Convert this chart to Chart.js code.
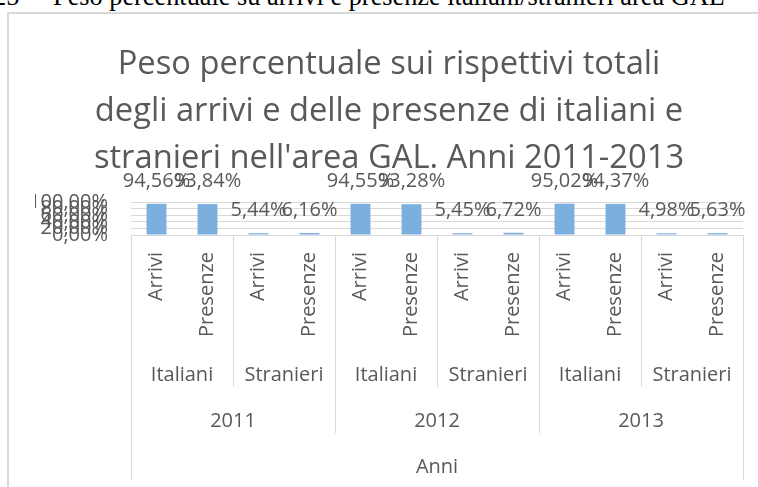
<!DOCTYPE html>
<html>
<head>
<meta charset="utf-8">
<script src="https://cdn.jsdelivr.net/npm/chart.js@4.4.1/dist/chart.umd.min.js"></script>
<style>
    html, body { margin: 0; padding: 0; background: #fff; overflow: hidden; width: 758px; height: 487px; }
    .caption { position: absolute; top: -16px; font-family: "Liberation Serif", serif; font-size: 26.3px; line-height: 26px; color: #000; white-space: nowrap; }
    .frame { position: absolute; left: 7px; top: 12px; width: 900px; height: 600px; border-left: 2px solid #d9d9d9; border-top: 2px solid #d9d9d9; }
    #chart { position: absolute; left: 0; top: 0; }
</style>
</head>
<body>
<span class="caption" style="left:-7px">25</span>
<span class="caption" style="left:30px">–</span>
<span class="caption" style="left:53px">Peso percentuale su arrivi e presenze italiani/stranieri area GAL</span>
<div class="frame"></div>
<canvas id="chart" width="758" height="487"></canvas>
<script>
// ── Data ──
const years    = ["2011", "2012", "2013"];
const groups   = ["Italiani", "Stranieri"];
const measures = ["Arrivi", "Presenze"];
const values   = [94.56, 93.84, 5.44, 6.16, 94.55, 93.28, 5.45, 6.72, 95.02, 94.37, 4.98, 5.63];
const yTicks   = [0, 20, 40, 60, 80, 100];

const titleLines = [
    "Peso percentuale sui rispettivi totali",
    "degli arrivi e delle presenze di italiani e",
    "stranieri nell'area GAL. Anni 2011-2013"
];

const labels = [];
years.forEach(y => groups.forEach(g => measures.forEach(m => labels.push(m))));

const TEXT = "#595959";
const LINE = "#d9d9d9";
const FONT = "'Open Sans', sans-serif";
const pct = v => v.toFixed(2).replace(".", ",") + "%";

// ── Value labels above bars ──
const valueLabels = {
    id: "valueLabels",
    afterDatasetsDraw(chart) {
        const { ctx } = chart;
        ctx.save();
        ctx.fillStyle = TEXT;
        ctx.font = "20px " + FONT;
        ctx.textAlign = "center";
        ctx.textBaseline = "alphabetic";
        chart.getDatasetMeta(0).data.forEach((bar, i) => {
            ctx.fillText(pct(values[i]), bar.x, bar.y - 17);
        });
        ctx.restore();
    }
};

// ── Multi-level category axis ──
const multiAxis = {
    id: "multiAxis",
    afterDraw(chart) {
        const { ctx, chartArea, scales: { x } } = chart;
        const n = labels.length;
        const step = x.getPixelForValue(1) - x.getPixelForValue(0);
        const edge = i => x.getPixelForValue(i) - step / 2;
        const perYear = groups.length * measures.length;

        ctx.save();
        ctx.strokeStyle = LINE;
        ctx.lineWidth = 1;
        for (let i = 0; i <= n; i++) {
            let end;
            if (i === 0 || i === n) end = 480;
            else if (i % perYear === 0) end = 433;
            else if (i % measures.length === 0) end = 387;
            else continue;
            const px = Math.round(edge(i)) + 0.5;
            ctx.beginPath();
            ctx.moveTo(px, chartArea.bottom);
            ctx.lineTo(px, end);
            ctx.stroke();
        }

        ctx.fillStyle = TEXT;
        ctx.font = "20px " + FONT;

        // rotated leaf labels
        labels.forEach((lab, i) => {
            ctx.save();
            ctx.translate(x.getPixelForValue(i), 252);
            ctx.rotate(-Math.PI / 2);
            ctx.textAlign = "right";
            ctx.textBaseline = "middle";
            ctx.fillText(lab, 0, 0);
            ctx.restore();
        });

        ctx.textAlign = "center";
        ctx.textBaseline = "alphabetic";
        // Italiani / Stranieri
        for (let k = 0; k < n / measures.length; k++) {
            const cx = (edge(k * measures.length) + edge((k + 1) * measures.length)) / 2;
            ctx.fillText(groups[k % groups.length], cx, 381);
        }
        // years
        years.forEach((y, k) => {
            const cx = (edge(k * perYear) + edge((k + 1) * perYear)) / 2;
            ctx.fillText(y, cx, 427);
        });
        // axis title
        ctx.fillText("Anni", (edge(0) + edge(n)) / 2, 473);
        ctx.restore();
    }
};

new Chart(document.getElementById("chart"), {
    type: "bar",
    data: {
        labels: labels,
        datasets: [{
            data: values,
            backgroundColor: "#7DAFDE",
            barPercentage: 0.39,
            categoryPercentage: 1
        }]
    },
    options: {
        responsive: false,
        animation: false,
        layout: { padding: { left: 35, right: 15, top: 0, bottom: 0 } },
        plugins: {
            legend: { display: false },
            tooltip: { enabled: false },
            title: {
                display: true,
                text: titleLines,
                color: TEXT,
                font: { family: FONT, size: 32.7, weight: "normal", lineHeight: "47px" },
                padding: { top: 41, bottom: 20 }
            }
        },
        scales: {
            x: {
                grid: { display: false },
                border: { display: true, color: LINE },
                ticks: { display: false },
                afterFit: s => { s.height = 252; }
            },
            y: {
                min: yTicks[0],
                max: yTicks[yTicks.length - 1],
                afterBuildTicks: s => { s.ticks = yTicks.map(v => ({ value: v })); },
                ticks: {
                    autoSkip: false,
                    padding: 23,
                    color: TEXT,
                    font: { family: FONT, size: 20 },
                    callback: v => pct(v)
                },
                grid: { color: LINE, drawTicks: false },
                border: { display: false },
                afterFit: s => { s.width = 96; }
            }
        }
    },
    plugins: [valueLabels, multiAxis]
});
</script>
</body>
</html>
